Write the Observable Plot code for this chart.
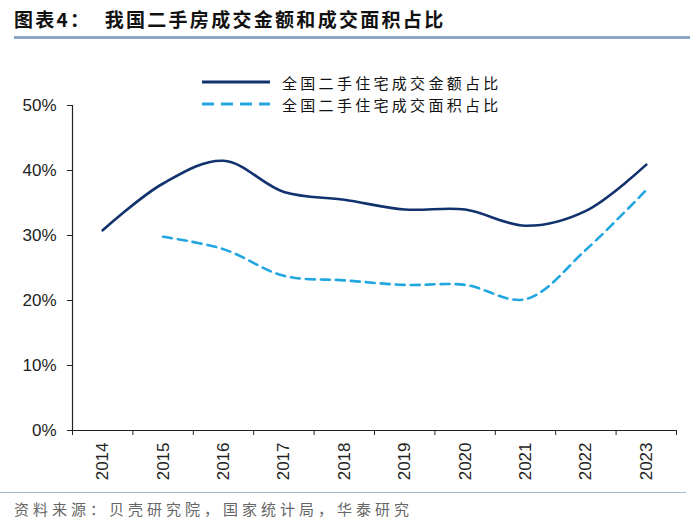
<!DOCTYPE html>
<html><head><meta charset="utf-8">
<script src="https://cdn.jsdelivr.net/npm/d3@7"></script>
<script src="https://cdn.jsdelivr.net/npm/@observablehq/plot@0.6"></script>
<style>
body{margin:0;background:#fff;width:700px;height:529px;position:relative;overflow:hidden;font-family:"Liberation Sans",Arial,sans-serif}
#title{position:absolute;left:14px;top:5px;font:bold 19px "Noto Sans CJK SC";letter-spacing:2.3px;color:#111;white-space:nowrap}
#tline{position:absolute;left:14px;top:36px;width:676px;height:3px;background:#8ea8c3}
#chart{position:absolute;left:0;top:45px}
#legend{position:absolute;left:200px;top:71px;font:15px "Noto Sans CJK SC";letter-spacing:3.3px;color:#111}
#legend .row{display:flex;align-items:center;height:22px}
#legend svg{margin-right:12px}
#fline{position:absolute;left:0;top:492px;width:686px;height:1px;background:#9dbbd6}
#source{position:absolute;left:14px;top:498px;font:15px "Noto Sans CJK SC";letter-spacing:4px;color:#666;white-space:nowrap}
</style></head>
<body>
<div id="title">图表4：&nbsp;&nbsp;我国二手房成交金额和成交面积占比</div>
<div id="tline"></div>
<div id="chart"></div>
<div id="legend"></div>
<div id="fline"></div>
<div id="source">资料来源：贝壳研究院，国家统计局，华泰研究</div>
<script>
const years = [2014, 2015, 2016, 2017, 2018, 2019, 2020, 2021, 2022, 2023];
const amountShare = [30.8, 38.0, 41.5, 36.7, 35.5, 34.0, 34.0, 31.5, 33.8, 40.9];
const areaShare = [null, 29.8, 27.9, 23.8, 23.1, 22.4, 22.4, 20.2, 27.8, 37.0];
const seriesNames = ["全国二手住宅成交金额占比", "全国二手住宅成交面积占比"];
const yTicks = [0, 10, 20, 30, 40, 50];
const xDomain = [2013.5, 2023.5];
const colors = ["#12326d", "#22a6e0"];

const boundaries = d3.range(xDomain[0], xDomain[1] + 0.01, 1);
const amountData = years.map((y, i) => ({year: y, value: amountShare[i]}));
const areaData = years.map((y, i) => ({year: y, value: areaShare[i]})).filter(d => d.value != null);

const chart = Plot.plot({
  width: 700, height: 445,
  marginLeft: 72, marginRight: 24, marginTop: 60, marginBottom: 60,
  x: {domain: xDomain},
  y: {domain: [0, 50]},
  style: {fontFamily: "'Liberation Sans', Arial, sans-serif", fontSize: "17px", color: "#222", background: "transparent"},
  marks: [
    Plot.axisY({ticks: yTicks, tickFormat: d => d + "%", tickSize: 5, tickPadding: 11, label: null, stroke: "#222"}),
    Plot.axisX({ticks: boundaries, tickFormat: () => "", tickSize: 5, label: null, stroke: "#222"}),
    Plot.axisX({ticks: years, tickSize: 0, tickRotate: -90, tickPadding: 12, tickFormat: d => String(d), label: null}),
    Plot.ruleX([xDomain[0]], {stroke: "#222", strokeWidth: 1.2}),
    Plot.ruleY([0], {stroke: "#222", strokeWidth: 1.2}),
    Plot.line(amountData, {x: "year", y: "value", curve: "catmull-rom", stroke: colors[0], strokeWidth: 2.6}),
    Plot.line(areaData, {x: "year", y: "value", curve: "catmull-rom", stroke: colors[1], strokeWidth: 2.6, strokeDasharray: "9,6"})
  ]
});
document.getElementById("chart").appendChild(chart);

const legend = document.getElementById("legend");
seriesNames.forEach((name, i) => {
  const row = document.createElement("div");
  row.className = "row";
  row.innerHTML = `<svg width="70" height="6"><line x1="2" y1="3" x2="70" y2="3" stroke="${colors[i]}" stroke-width="3" ${i === 1 ? 'stroke-dasharray="12,7"' : ''}/></svg><span>${name}</span>`;
  legend.appendChild(row);
});
</script>
</body></html>
